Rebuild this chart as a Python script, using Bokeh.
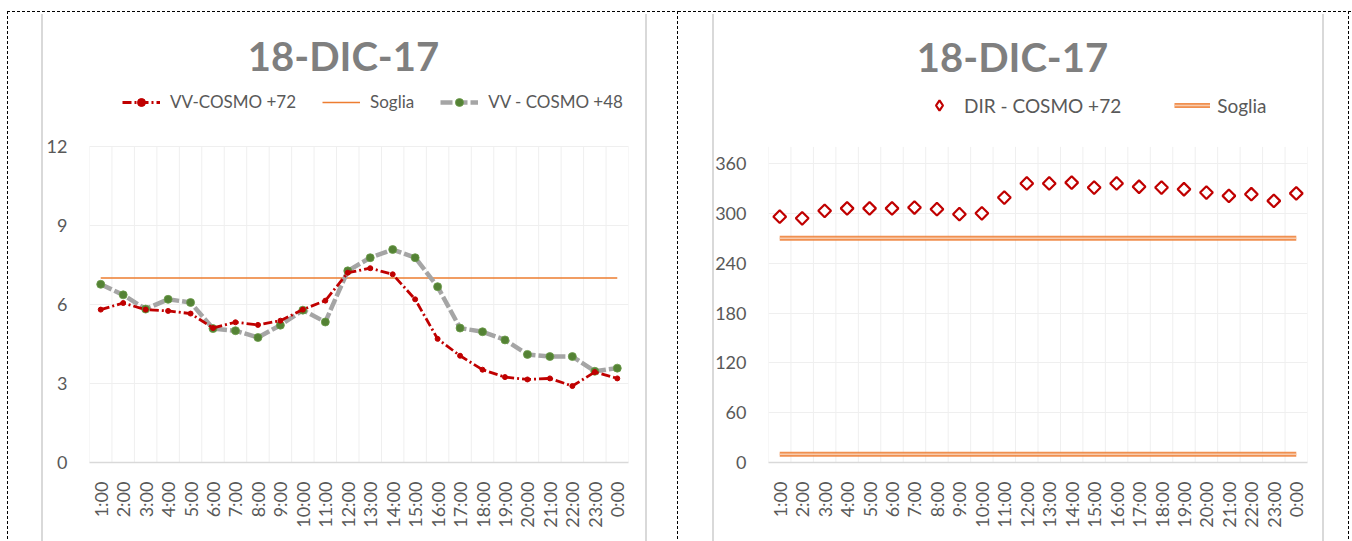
import math
from bokeh.plotting import figure
from bokeh.layouts import row
from bokeh.models import (ColumnDataSource, FixedTicker, Legend, LegendItem,
                          Label, InlineStyleSheet, Range1d)
from bokeh.embed import file_html
from bokeh.resources import INLINE

# ---------------- data ----------------
hours = ["1:00", "2:00", "3:00", "4:00", "5:00", "6:00", "7:00", "8:00",
         "9:00", "10:00", "11:00", "12:00", "13:00", "14:00", "15:00", "16:00",
         "17:00", "18:00", "19:00", "20:00", "21:00", "22:00", "23:00", "0:00"]

vv_cosmo72 = [5.8, 6.05, 5.8, 5.75, 5.65, 5.1, 5.32, 5.22, 5.38, 5.8, 6.14, 7.2,
              7.37, 7.14, 6.19, 4.69, 4.05, 3.52, 3.24, 3.15, 3.19, 2.9, 3.43, 3.19]
vv_cosmo48 = [6.76, 6.36, 5.82, 6.19, 6.07, 5.08, 5.0, 4.74, 5.21, 5.78, 5.33, 7.27,
              7.77, 8.08, 7.77, 6.67, 5.1, 4.96, 4.65, 4.1, 4.02, 4.02, 3.46, 3.58]
soglia_vv = [7] * 24

dir_cosmo72 = [296, 294, 303, 306, 306, 306, 307, 305, 299, 300, 319, 336,
               336, 337, 331, 336, 332, 331, 329, 325, 321, 323, 315, 324]
soglia_dir_alta = [270] * 24
soglia_dir_bassa = [10] * 24

title_text = "18-DIC-17"
vv_ticks = [0, 3, 6, 9, 12]
dir_ticks = [0, 60, 120, 180, 240, 300, 360]
vv_axis_max = 12
dir_axis_max = 380

FONT = "Lato"
TXT = "#595959"
GRID = "#efefef"
H = 541

src_vv = ColumnDataSource(dict(h=hours, v72=vv_cosmo72, v48=vv_cosmo48, s=soglia_vv))
src_dir = ColumnDataSource(dict(h=hours, d=dir_cosmo72, sa=soglia_dir_alta, sb=soglia_dir_bassa))

VDASH = "repeating-linear-gradient(to bottom, #000 0px, #000 3px, transparent 3px, transparent 5px)"
HDASH = "repeating-linear-gradient(to right, #000 0px, #000 3px, transparent 3px, transparent 5px)"
GREY = "linear-gradient(#d9d9d9, #d9d9d9)"


def deco_sheet(hdash_x0, vdash_x, grey_x):
    imgs = [HDASH] + [VDASH] * len(vdash_x) + [GREY] * len(grey_x)
    sizes = ["100% 1px"] + ["1px 100%"] * len(vdash_x) + ["2px 100%"] * len(grey_x)
    poss = ["%dpx 11px" % hdash_x0] + ["%dpx 11px" % x for x in vdash_x] + \
           ["%dpx 14px" % x for x in grey_x]
    css = (":host { background-image: %s; background-size: %s; "
           "background-position: %s; background-repeat: no-repeat; }"
           % (", ".join(imgs), ", ".join(sizes), ", ".join(poss)))
    return InlineStyleSheet(css=css)


def base_fig(width, y_end, ticks, grid_top, mb_left, mb_right, mb_bottom, sheet):
    p = figure(width=width, height=H, x_range=hours, y_range=(0, y_end),
               output_backend="svg", toolbar_location=None, tools="", title=None,
               min_border_left=mb_left, min_border_right=mb_right,
               min_border_top=0, min_border_bottom=mb_bottom)
    p.stylesheets = [sheet]
    p.outline_line_color = None
    p.background_fill_color = None
    p.border_fill_color = None
    p.x_range.range_padding = 0
    p.yaxis.ticker = FixedTicker(ticks=ticks)
    p.yaxis.axis_line_color = None
    p.yaxis.major_tick_line_color = None
    p.yaxis.minor_tick_line_color = None
    p.yaxis.major_label_text_font = FONT
    p.yaxis.major_label_text_font_size = "18px"
    p.yaxis.major_label_text_color = TXT
    p.yaxis.major_label_standoff = 16
    p.xaxis.axis_line_color = "#d9d9d9"
    p.xaxis.axis_line_width = 1.5
    p.xaxis.major_tick_line_color = None
    p.xaxis.minor_tick_line_color = None
    p.xaxis.major_label_orientation = math.pi / 2
    p.xaxis.major_label_text_font = FONT
    p.xaxis.major_label_text_font_size = "18px"
    p.xaxis.major_label_text_color = TXT
    p.xaxis.major_label_standoff = 13
    p.ygrid.grid_line_color = GRID
    p.xgrid.grid_line_color = None
    # vertical gridlines at the category boundaries, up to the axis maximum
    edges = list(range(len(hours) + 1))
    p.segment(x0=edges, y0=[0] * len(edges), x1=edges, y1=[grid_top] * len(edges),
              line_color=GRID, line_width=1)
    return p


def add_title(p, x, y):
    p.add_layout(Label(x=x, y=y, x_units="screen", y_units="screen", text=title_text,
                       text_align="center", text_baseline="middle",
                       text_font=FONT, text_font_style="bold",
                       text_font_size="40px", text_color="#7f7f7f"))


# ---------------- left chart: velocity ----------------
p1 = base_fig(678, 463 * vv_axis_max / 317, vv_ticks, vv_axis_max, 89, 50, 78,
              deco_sheet(7, [7, 677], [41, 645]))
r_s = p1.line("h", "s", source=src_vv, line_color="#ED7D31", line_width=1.5)
r_48l = p1.line("h", "v48", source=src_vv, line_color="#A5A5A5", line_width=4.5,
                line_dash="12 3")
r_48m = p1.scatter("h", "v48", source=src_vv, size=8, fill_color="#548235",
                   line_color="#6a9a48", line_width=0.8)
r_72l = p1.line("h", "v72", source=src_vv, line_color="#C00000", line_width=2.8,
                line_dash="9 3 2 3")
r_72m = p1.scatter("h", "v72", source=src_vv, size=5, fill_color="#C00000",
                   line_color="#C00000")
leg1 = Legend(items=[LegendItem(label="VV-COSMO +72", renderers=[r_72l, r_72m]),
                     LegendItem(label="Soglia", renderers=[r_s]),
                     LegendItem(label="VV - COSMO +48", renderers=[r_48l, r_48m])],
              location=(33, 350), orientation="horizontal", glyph_width=38,
              label_standoff=10, spacing=26, padding=0, margin=0,
              border_line_color=None, background_fill_alpha=0,
              label_text_font=FONT, label_text_font_size="17px", label_text_color=TXT)
p1.add_layout(leg1)
add_title(p1, 254, 407)

# ---------------- right chart: direction ----------------
p2 = base_fig(674, 462 * 360 / 299, dir_ticks, dir_axis_max, 90, 45, 79,
              deco_sheet(0, [670], [34, 644]))
r_sa1 = p2.line("h", "sa", source=src_dir, line_color="#ED7D31", line_width=5, line_alpha=0.85)
r_sa2 = p2.line("h", "sa", source=src_dir, line_color="#F8CBAD", line_width=1.5)
r_sb1 = p2.line("h", "sb", source=src_dir, line_color="#ED7D31", line_width=5, line_alpha=0.85)
r_sb2 = p2.line("h", "sb", source=src_dir, line_color="#F8CBAD", line_width=1.5)
r_dir = p2.scatter("h", "d", source=src_dir, marker="square", angle=math.pi / 4,
                   size=9, fill_color="white", line_color="#C00000", line_width=2.2)
# legend swatch for the diamonds: same data on a hidden range, so it stays out of the frame
p2.extra_y_ranges = {"key": Range1d(start=1000, end=2000)}
r_dir_key = p2.scatter("h", "d", source=src_dir, y_range_name="key",
                       marker="diamond", size=13, fill_color="white",
                       line_color="#C00000", line_width=2.2)
leg2 = Legend(items=[LegendItem(label="DIR - COSMO +72", renderers=[r_dir_key]),
                     LegendItem(label="Soglia", renderers=[r_sa1, r_sa2])],
              location=(153, 344), orientation="horizontal", glyph_width=36,
              glyph_height=26, label_standoff=7, spacing=53, padding=0, margin=0,
              border_line_color=None, background_fill_alpha=0,
              label_text_font=FONT, label_text_font_size="19px", label_text_color=TXT)
p2.add_layout(leg2)
add_title(p2, 244, 406)

layout = row(p1, p2)
open("out.html", "w").write(file_html(layout, INLINE))
